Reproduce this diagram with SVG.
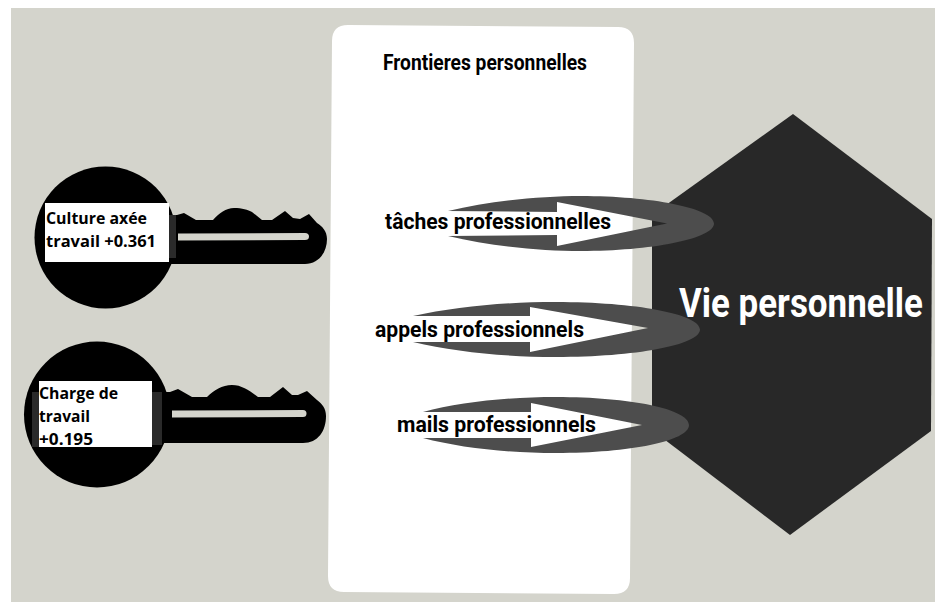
<svg xmlns="http://www.w3.org/2000/svg" width="935" height="602" viewBox="0 0 935 602">
<style>
.din{font-family:"Roboto","Liberation Sans",sans-serif;font-weight:700;fill:#000;font-size:22px}
.key{font-family:"Open Sans","Liberation Sans",sans-serif;font-weight:700;fill:#000;font-size:16px}
.k{fill:#000}.band{fill:#2a2a2a}.lab{fill:#fff}.arrow{fill:#4d4d4d}
</style>
<rect x="0" y="0" width="935" height="602" fill="#fff"/>
<rect x="11" y="8" width="924" height="594" fill="#d4d4cc"/>
<g id="panel">
<path d="M348 25 L618 27 Q634 27 634 43 L630 578 Q630 594 614 594 L344 592 Q328 592 328 576 L332 41 Q332 25 348 25Z" fill="#fff"/>
<text class="din" x="383" y="70" textLength="204" lengthAdjust="spacingAndGlyphs">Frontieres personnelles</text>
</g>
<g id="hexagon">
<path d="M793 114 L932 219 L931 431 L790 535 L652 430 L652 215Z" fill="#282828"/>
<text class="din" transform="translate(679 317) scale(.85 1)" style="font-size:40px;fill:#fff" textLength="287" lengthAdjust="spacingAndGlyphs">Vie personnelle</text>
</g>
<g id="connectors">
<path class="arrow" d="M448 211 C490 201 540 196 581 196 C650 196 714 208 714 223.5 C714 239 650 251 581 251 C540 251 490 246 448 236 L557 235 L557 246 L667 223.5 L557 202 L557 212Z"/>
<path class="arrow" d="M413 316 C455 307 505 302 556 302 C635 302 700 314 700 329.5 C700 345 635 357 556 357 C505 357 455 352 413 342 L530 342 L530 352 L648 328 L530 307 L530 316Z"/>
<path class="arrow" d="M423 412 C460 402 510 397 556 397 C630 397 689 409 689 425 C689 441 630 453 556 453 C510 453 460 448 423 438 L531 438 L531 447 L642 425 L531 403 L531 412Z"/>
</g>
<g id="label-taches"><text class="din" x="385" y="229" textLength="226" lengthAdjust="spacingAndGlyphs">tâches professionnelles</text></g>
<g id="label-appels"><text class="din" x="375" y="337" textLength="209" lengthAdjust="spacingAndGlyphs">appels professionnels</text></g>
<g id="label-mails"><text class="din" x="397" y="432" textLength="199" lengthAdjust="spacingAndGlyphs">mails professionnels</text></g>
<g id="key-culture">
<circle class="k" cx="105.500" cy="237.500" r="71"/>
<path class="k" fill-rule="evenodd" d="M170 215 L177 215 L184 213 L196 220 L213 220 C219 213 226 208 234 208 C242 208 248 210 252 212 L262 220 L272 220 L285 211 L293 218 L300 219 L309 214 L317 223 C322 226 327 231 327 239 C327 253 318 264 305 264 L170 264Z M178 233.500 L305 233 Q309 233 309 236.500 Q309 240 305 240 L178 240.500Z"/>
<rect class="band" x="169" y="215" width="7" height="43"/>
<rect class="lab" x="45" y="203" width="124" height="59"/>
<text class="key" x="46" y="224" textLength="101" lengthAdjust="spacingAndGlyphs">Culture axée</text>
<text class="key" x="46" y="247" textLength="110" lengthAdjust="spacingAndGlyphs">travail +0.361</text>
</g>
<g id="key-charge">
<circle class="k" cx="97" cy="414.500" r="73"/>
<path class="k" fill-rule="evenodd" d="M160 392 L170 392 L178 389 L192 397 L207 397 C214 390 222 385 232 385 C242 385 250 391 258 397 L270 397 L283 387 L292 395 L298 395 L307 391 L317 400 C322 404 326 408 326 416 C326 431 318 443 303 443 L160 443Z M172 410.500 L303 410 Q306.500 410 306.500 413.500 Q306.500 417 303 417 L172 417.500Z"/>
<rect class="band" x="32" y="392" width="7" height="55"/>
<rect class="band" x="152" y="392" width="10" height="53"/>
<rect class="lab" x="39" y="381" width="113" height="66"/>
<text class="key" x="39" y="399" textLength="79" lengthAdjust="spacingAndGlyphs">Charge de</text>
<text class="key" x="39" y="422" textLength="51" lengthAdjust="spacingAndGlyphs">travail</text>
<text class="key" x="39" y="445" textLength="54" lengthAdjust="spacingAndGlyphs">+0.195</text>
</g>
</svg>
